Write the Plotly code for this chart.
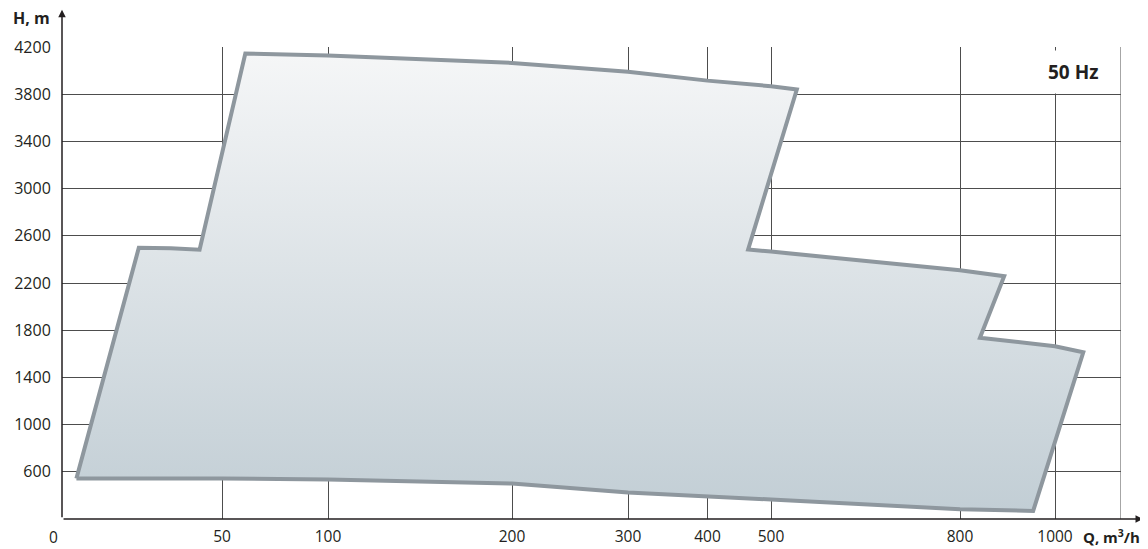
import numpy as np
import plotly.graph_objects as go

# ---- Axis scale of the original chart (non-linear Q axis) ----
AXIS_Q = [0, 50, 100, 200, 300, 400, 500, 800, 1000, 1140]
AXIS_POS = [0, 160, 266, 450, 566, 645.5, 709, 898, 993, 1059]

x_ticks = [50, 100, 200, 300, 400, 500, 800, 1000]
x_tick_labels = ["50", "100", "200", "300", "400", "500", "800", "1000"]
y_ticks = [600, 1000, 1400, 1800, 2200, 2600, 3000, 3400, 3800, 4200]
y_tick_labels = [str(v) for v in y_ticks]

# ---- Operating range envelope (Q in m3/h, H in m) ----
env_q = [4.5, 24, 34, 43, 61, 100, 200, 300, 400, 500, 541,
         464, 500, 800, 893, 842, 1000, 1060, 954,
         800, 500, 400, 300, 200, 100, 50, 4.5]
env_h = [543, 2498, 2494, 2482, 4145, 4128, 4065, 3990, 3915, 3868, 3840,
         2484, 2466, 2308, 2258, 1736, 1664, 1613, 268,
         283, 365, 390, 424, 500, 535, 543, 543]


def qpos(q):
    return np.interp(np.asarray(q, dtype=float), AXIS_Q, AXIS_POS)


FONT = "Open Sans"
GRID = "#4d4d4d"
TXT = "#231f20"

fig = go.Figure()
fig.add_trace(go.Scatter(
    x=qpos(env_q), y=env_h, mode="lines", fill="toself",
    line=dict(color="#8e979e", width=4),
    fillgradient=dict(type="vertical",
                      colorscale=[[0, "#c2ced5"], [1, "#f5f6f7"]]),
    hoverinfo="skip", showlegend=False,
))

fig.update_layout(
    width=1140, height=541,
    margin=dict(l=54, r=27, t=39, b=30),
    paper_bgcolor="white", plot_bgcolor="white",
    font=dict(family=FONT, size=16, color=TXT),
    xaxis=dict(range=[0, AXIS_POS[-1]], tickvals=list(qpos(x_ticks)),
               ticktext=x_tick_labels, showgrid=True, gridcolor=GRID,
               gridwidth=1, zeroline=False, showline=False, automargin=False,
               ticks="outside", ticklen=3, tickcolor="rgba(0,0,0,0)",
               tickfont=dict(family=FONT, size=15.5, color=TXT)),
    yaxis=dict(range=[200, 4200], tickvals=y_ticks, ticktext=y_tick_labels,
               showgrid=True, gridcolor=GRID, gridwidth=1, zeroline=False,
               showline=False, automargin=False, ticks="outside", ticklen=7,
               tickcolor="rgba(0,0,0,0)",
               tickfont=dict(family=FONT, size=16, color=TXT)),
)

# right border of grid
fig.add_shape(type="line", xref="x", yref="y", x0=AXIS_POS[-1], x1=AXIS_POS[-1],
              y0=200, y1=4200, line=dict(color=GRID, width=1), layer="below")

# axis arrows
fig.add_annotation(xref="paper", yref="paper", x=0, y=1.079, text="",
                   showarrow=True, axref="pixel", ayref="pixel", ax=0, ay=509,
                   arrowhead=2, arrowsize=1, arrowwidth=1.5, arrowcolor=TXT)
fig.add_annotation(xref="paper", yref="paper", x=1.0208, y=0, text="",
                   showarrow=True, axref="pixel", ayref="pixel", ax=-1081, ay=0,
                   arrowhead=2, arrowsize=1, arrowwidth=1.5, arrowcolor=TXT)

# axis titles and labels
fig.add_annotation(xref="paper", yref="paper", x=-0.048, y=1.062, xanchor="left",
                   yanchor="middle", text="<b>H, m</b>", showarrow=False,
                   font=dict(family=FONT, size=16, color=TXT))
fig.add_annotation(xref="paper", yref="paper", x=1.0198, y=-0.038, xanchor="right",
                   yanchor="middle", text="<b>Q, m<sup>3</sup>/h</b>", showarrow=False,
                   font=dict(family=FONT, size=15, color=TXT))
fig.add_annotation(xref="paper", yref="paper", x=-0.008, y=-0.038, xanchor="center",
                   yanchor="middle", text="0", showarrow=False,
                   font=dict(family=FONT, size=15.5, color=TXT))
fig.add_annotation(xref="paper", yref="paper", x=0.9868, y=0.9477, xanchor="right",
                   yanchor="middle", text="<b>50 Hz</b>", showarrow=False,
                   bgcolor="white", borderpad=8,
                   font=dict(family=FONT, size=19, color=TXT))

fig.write_html("out.html")
